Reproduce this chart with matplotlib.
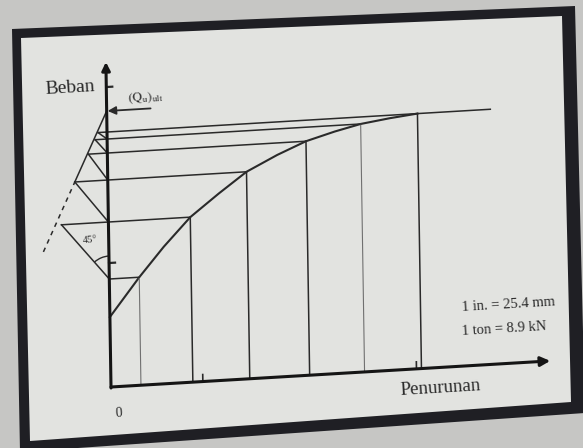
import numpy as np
import matplotlib
matplotlib.use("Agg")
import matplotlib.pyplot as plt
from matplotlib.patches import Polygon, Arc
from matplotlib.transforms import Affine2D

plt.rcParams["mathtext.fontset"] = "stix"

# load - settlement curve (drawing units)
settlement = [0, 30, 55, 82, 111, 139, 170, 199, 228, 254, 283, 311]
load = [70, 108, 137, 165, 187, 207, 222, 234, 242, 248, 252, 255]
marked = [1, 3, 5, 7, 9, 11]          # points used for the construction
light = [1, 9]                        # faint vertical lines in the print
left_s = [-47, -33, -19, -12, -9]     # 45 deg lines meet next load level here
q_ult = 276                           # (Qu)ult on the load axis
asym_end = 384
dash_low = 139
x_ticks = [92, 306]
y_ticks = [124, 300]

ink = "#2a2a2a"
fig = plt.figure(figsize=(5.83, 4.48), dpi=100)
fig.patch.set_facecolor("#c6c6c4")

W, H = 583.0, 448.0
def fr(pts):
    return [(x / W, 1 - y / H) for x, y in pts]

fig.add_artist(Polygon(fr([(12, 29), (575, 6), (585, 413), (20, 452)]),
                       closed=True, fc="#1f1f24", ec="none",
                       transform=fig.transFigure, zorder=-2))
fig.add_artist(Polygon(fr([(21, 38), (562, 16), (571, 402), (30, 441)]),
                       closed=True, fc="#e2e3e0", ec="none",
                       transform=fig.transFigure, zorder=-1))

ax = fig.add_axes([0, 0, 1, 1])
ax.set_xlim(-111, 472)
ax.set_ylim(-61, 387)
ax.axis("off")
ax.patch.set_visible(False)

# the photo is a little skewed: tilt the drawing the same way
ox, oy = ax.transData.transform((0, 0))
a, b = np.radians(3.4), np.radians(0.9)
skew = Affine2D(np.array([[np.cos(a), -np.sin(b), 0],
                          [np.sin(a), np.cos(b), 0],
                          [0, 0, 1]]))
T = ax.transData + Affine2D().translate(-ox, -oy) + skew + Affine2D().translate(ox, oy)

# axes with arrows
ax.annotate("", xy=(440, 0), xytext=(0, 0), xycoords=T, textcoords=T,
            arrowprops=dict(arrowstyle="-|>", lw=2.2, color="#151515",
                            mutation_scale=14, shrinkA=0, shrinkB=0))
ax.annotate("", xy=(0, 325), xytext=(0, -1), xycoords=T, textcoords=T,
            arrowprops=dict(arrowstyle="-|>", lw=2.2, color="#151515",
                            mutation_scale=12, shrinkA=0, shrinkB=0))
for q in y_ticks:
    ax.plot([0, 6], [q, q], color=ink, lw=1.6, transform=T)
for s in x_ticks:
    ax.plot([s, s], [0, 7], color=ink, lw=1.2, transform=T)

# curve
ax.plot(settlement, load, color=ink, lw=1.5, transform=T)

# vertical and horizontal lines from the marked points
for k, i in enumerate(marked):
    s, q = settlement[i], load[i]
    c, w = ("#707070", 0.8) if i in light else (ink, 1.1)
    ax.plot([s, s], [q, 0], color=c, lw=w, transform=T)
    start = left_s[k - 1] if k > 0 else 0
    end = asym_end if k == len(marked) - 1 else s
    ax.plot([start, end], [q, q], color=ink, lw=1.1, transform=T)

# 45 deg lines from the load axis to the next level
for k in range(len(marked) - 1):
    q0 = load[marked[k]]
    q1 = load[marked[k + 1]]
    ax.plot([0, left_s[k]], [q0, q1], color=ink, lw=1.1, transform=T)

# line through the intersections up to (Qu)ult, dashed below
s3, q3 = left_s[1], load[marked[2]]
slope = (q_ult - q3) / (0 - s3)
ax.plot([s3, 0], [q3, q_ult], color=ink, lw=1.1, transform=T)
ax.plot([s3 - (q3 - dash_low) / slope, s3], [dash_low, q3], color=ink,
        lw=1.1, ls=(0, (3, 3)), transform=T)

ax.annotate("", xy=(1, q_ult), xytext=(44, q_ult), xycoords=T, textcoords=T,
            arrowprops=dict(arrowstyle="-|>", lw=1.3, color=ink,
                            mutation_scale=12, shrinkA=0, shrinkB=0))
ax.add_patch(Arc((0, load[1]), 46, 46, theta1=90, theta2=129,
                 color=ink, lw=1.0, transform=T))

serif = "Liberation Serif"
txt = dict(transform=T, transform_rotates_text=True, family=serif, color=ink)
ax.text(-11, 300, "Beban", fontsize=14, ha="right", va="center", **txt)
ax.text(21, 288, r"$(\mathrm{Q_u})_{\mathrm{ult}}$", fontsize=9.5,
        ha="left", va="center", **txt)
ax.text(-19, 148, "45°", fontsize=7.5, ha="center", va="center", **txt)
ax.text(7, -27, "0", fontsize=10, ha="center", va="center", **txt)
ax.text(289, -18, "Penurunan", fontsize=13.5, ha="left", va="center", **txt)
ax.text(352, 61, "1 in. = 25.4 mm", fontsize=10.5, ha="left", va="center", **txt)
ax.text(352, 37, "1 ton = 8.9 kN", fontsize=10.5, ha="left", va="center", **txt)

fig.savefig("out.png", dpi=100, facecolor=fig.get_facecolor())
